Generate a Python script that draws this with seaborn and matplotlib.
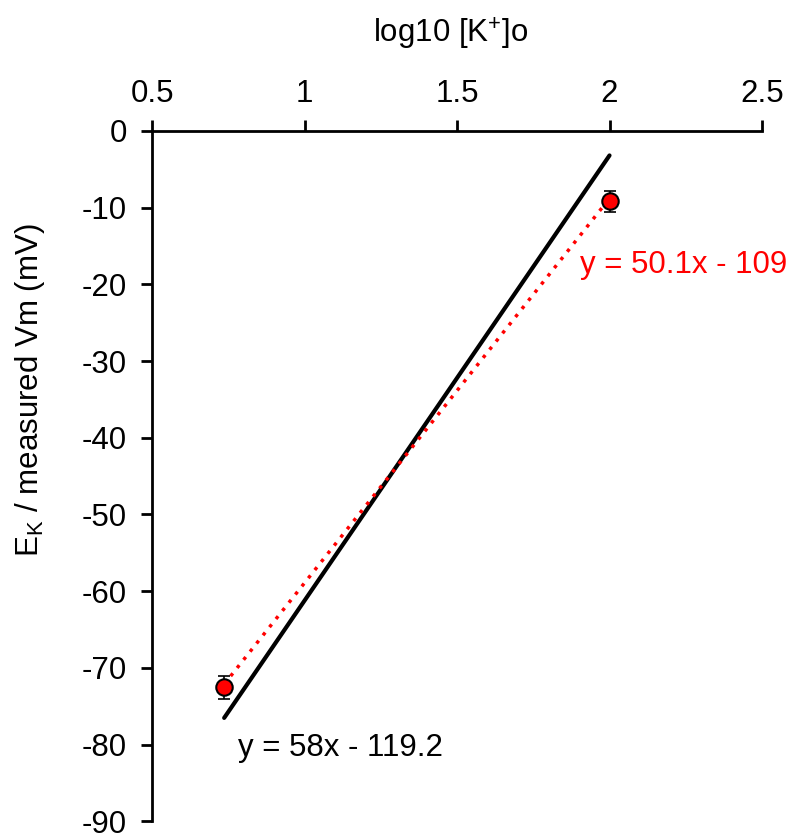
import matplotlib
matplotlib.use("Agg")
import matplotlib.pyplot as plt
import seaborn as sns
import numpy as np
import pandas as pd

log_k = [0.736, 2.0]
vm = [-72.5, -9.2]
vm_err = [1.5, 1.4]
slope_theory, icpt_theory = 58.0, -119.2
slope_meas, icpt_meas = 50.1, -109.0

sns.set_theme(style="white")
plt.rcParams['font.family'] = ['Liberation Sans', 'DejaVu Sans']
plt.rcParams['mathtext.fontset'] = 'custom'
plt.rcParams['mathtext.rm'] = 'Liberation Sans'
plt.rcParams['mathtext.it'] = 'Liberation Sans'

FS = 22.5

fig = plt.figure(figsize=(7.97, 8.39), dpi=100)
ax = fig.add_axes([0.191, 0.021, 0.765, 0.823])

df = pd.DataFrame({"x": log_k, "y": vm})
xs = np.array([min(log_k), max(log_k)])
ax.plot(xs, slope_theory * xs + icpt_theory, color="black", lw=3, zorder=2)
ax.plot(xs, slope_meas * xs + icpt_meas, color="red", lw=2.5, ls=(0, (1, 2)), zorder=2)
ax.errorbar(log_k, vm, yerr=vm_err, fmt="none", ecolor="black", elinewidth=1.2, capsize=4.5, capthick=1.2, zorder=3)
sns.scatterplot(data=df, x="x", y="y", ax=ax, color="red", edgecolor="black", linewidth=1.5, s=140, zorder=4)

ax.set_xlim(0.5, 2.5)
ax.set_ylim(-90, 0)
ax.set_xticks([0.5, 1, 1.5, 2, 2.5])
ax.set_xticklabels(["0.5", "1", "1.5", "2", "2.5"])
ax.set_yticks(np.arange(-90, 1, 10))
ax.set_yticklabels([str(v) for v in np.arange(-90, 1, 10)])

ax.xaxis.tick_top()
ax.xaxis.set_label_position("top")
for s in ["right", "bottom"]:
    ax.spines[s].set_visible(False)
for s in ["left", "top"]:
    ax.spines[s].set_visible(True)
    ax.spines[s].set_color("black")
    ax.spines[s].set_linewidth(2)
ax.tick_params(axis="both", which="major", direction="out", length=8, width=2, color="black",
               labelsize=FS, labelcolor="black", bottom=False, top=True, left=True, right=False)
ax.tick_params(axis="x", pad=8)
ax.tick_params(axis="y", pad=10)
ax.grid(False)

ax.set_xlabel("log10 [K$^{+}$]o", fontsize=FS, color="black")
ax.xaxis.set_label_coords(0.49, 1.128)
ax.set_ylabel("E$_{K}$ / measured Vm (mV)", fontsize=FS, color="black")
ax.yaxis.set_label_coords(-0.172, 0.625)

ax.text(1.903, -17.5, "y = 50.1x - 109", color="red", fontsize=FS, ha="left", va="center")
ax.text(0.78, -80.5, "y = 58x - 119.2", color="black", fontsize=FS, ha="left", va="center")

fig.savefig("out.png", dpi=100)
